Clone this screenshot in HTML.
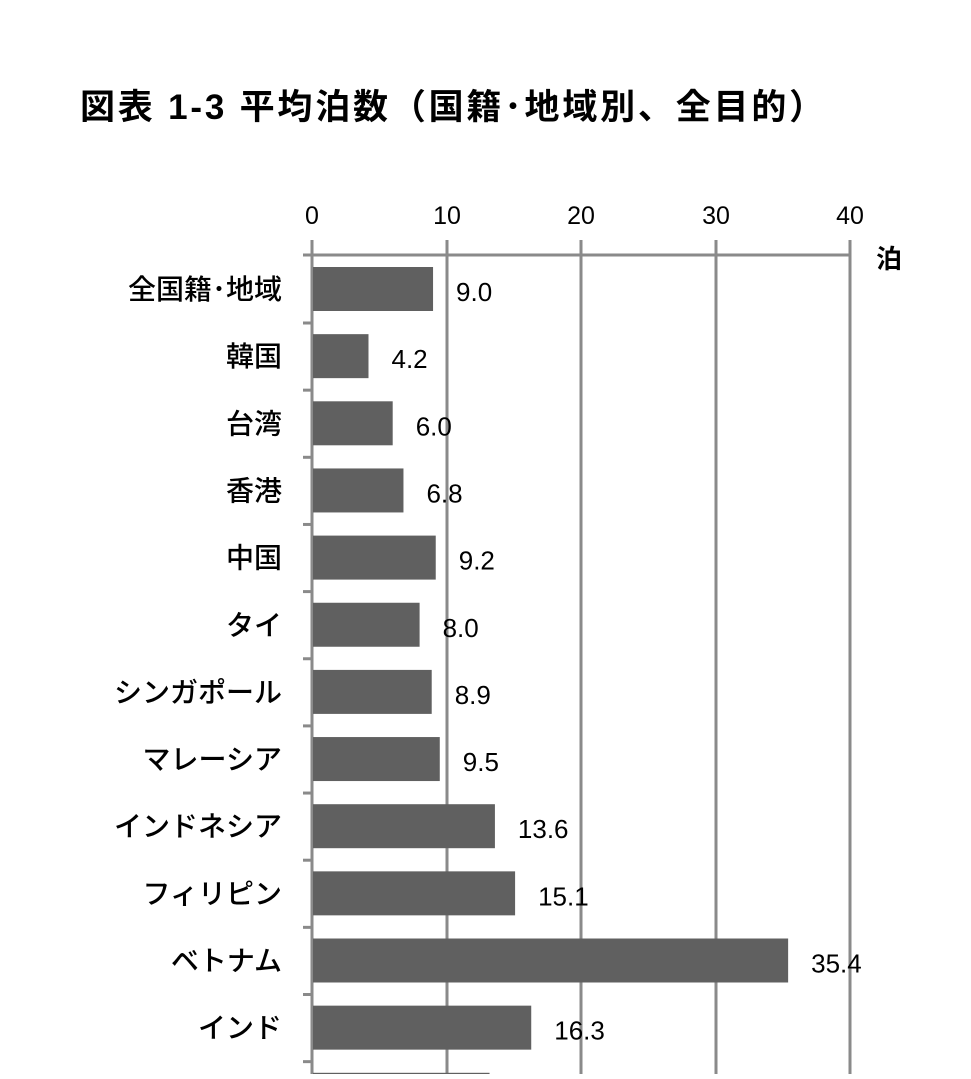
<!DOCTYPE html>
<html><head><meta charset="utf-8"><style>
body{margin:0;background:#fff;width:971px;height:1074px;overflow:hidden;font-family:"Liberation Sans","Noto Sans CJK JP",sans-serif;}
</style></head><body>
<svg width="971" height="1074" xmlns="http://www.w3.org/2000/svg" style="font-family:'Liberation Sans','Noto Sans CJK JP',sans-serif">
<text x="80" y="119" font-size="35" font-weight="bold" fill="#000" letter-spacing="2.8">図表 1-3  平均泊数（国籍･地域別、全目的）</text>
<g font-size="25" fill="#000" text-anchor="middle">
<text x="312" y="224">0</text><text x="447" y="224">10</text><text x="581" y="224">20</text><text x="716" y="224">30</text><text x="850" y="224">40</text>
</g>
<text x="876" y="268" font-size="26" font-weight="bold">泊</text>
<g stroke="#8a8a8a" stroke-width="3">
<line x1="447" y1="240" x2="447" y2="1074"/><line x1="581" y1="240" x2="581" y2="1074"/><line x1="716" y1="240" x2="716" y2="1074"/><line x1="850" y1="240" x2="850" y2="1074"/>
<line x1="303" y1="255" x2="850" y2="255"/>
<line x1="312" y1="240" x2="312" y2="1074"/>
</g>
<g id="bars"></g>
<g id="ticks" stroke="#8a8a8a" stroke-width="3"></g>
<script>
var d=[["全国籍･地域",9.0],["韓国",4.2],["台湾",6.0],["香港",6.8],["中国",9.2],["タイ",8.0],["シンガポール",8.9],["マレーシア",9.5],["インドネシア",13.6],["フィリピン",15.1],["ベトナム",35.4],["インド",16.3],["",13.2]];
var b=document.getElementById("bars"),t=document.getElementById("ticks"),ns="http://www.w3.org/2000/svg";
d.forEach(function(r,i){var y=267+i*67.15,w=r[1]*13.45;
var re=document.createElementNS(ns,"rect");re.setAttribute("x",313);re.setAttribute("y",y);re.setAttribute("width",w-1);re.setAttribute("height",44);re.setAttribute("fill","#606060");b.appendChild(re);
if(r[0]){var tx=document.createElementNS(ns,"text");tx.setAttribute("x",282);tx.setAttribute("y",y+32);tx.setAttribute("font-size","28");tx.setAttribute("font-weight","500");tx.setAttribute("text-anchor","end");tx.textContent=r[0];b.appendChild(tx);
var v=document.createElementNS(ns,"text");v.setAttribute("x",312+w+23);v.setAttribute("y",y+34);v.setAttribute("font-size","26");v.textContent=r[1].toFixed(1);b.appendChild(v);}
var l=document.createElementNS(ns,"line");l.setAttribute("x1",303);l.setAttribute("x2",312);l.setAttribute("y1",y+56);l.setAttribute("y2",y+56);t.appendChild(l);});
</script>
</svg>
</body></html>
